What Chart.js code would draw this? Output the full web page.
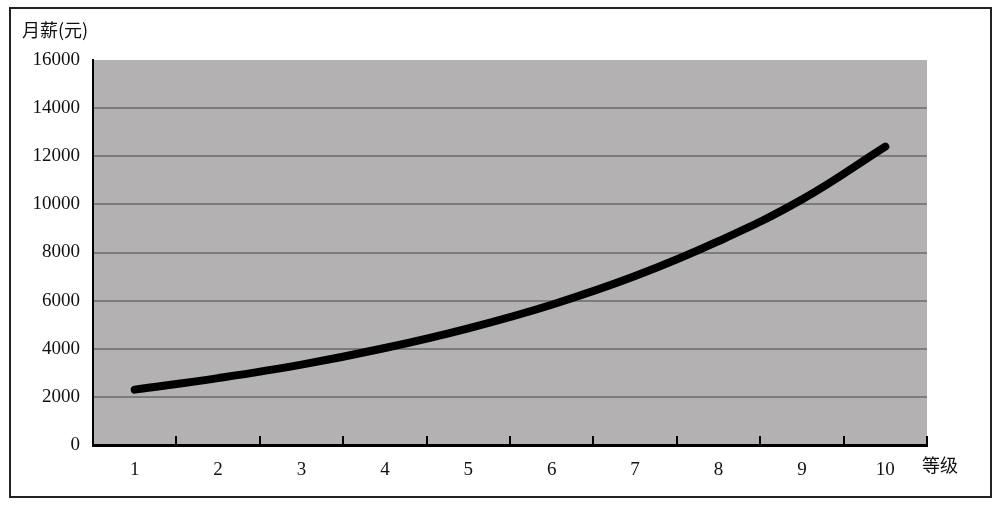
<!DOCTYPE html>
<html>
<head>
<meta charset="utf-8">
<script src="https://cdn.jsdelivr.net/npm/chart.js@4/dist/chart.umd.min.js"></script>
<style>
  html, body { margin: 0; padding: 0; background: #fff; }
  #wrap { width: 1000px; height: 505px; }
</style>
</head>
<body>
<div id="wrap"><canvas id="chart" width="1000" height="505"></canvas></div>
<script>
const levels = ["1", "2", "3", "4", "5", "6", "7", "8", "9", "10"];
const salary = [2300, 2780, 3340, 4030, 4850, 5830, 7020, 8470, 10200, 12400];
const yTicks = [0, 2000, 4000, 6000, 8000, 10000, 12000, 14000, 16000];

const yTitle = "月薪(元)";
const xTitle = "等级";

const serif = "'Liberation Serif', 'Times New Roman', serif";
const cjk = "'Noto Sans CJK SC', sans-serif";

const framePlugin = {
  id: "framePlugin",
  beforeDraw(chart) {
    const { ctx, chartArea } = chart;
    ctx.save();
    ctx.fillStyle = "#fff";
    ctx.fillRect(0, 0, chart.width, chart.height);
    // outer frame
    ctx.strokeStyle = "#222";
    ctx.lineWidth = 2;
    ctx.strokeRect(10, 8, 981, 489);
    // plot background
    ctx.fillStyle = "#b3b1b2";
    ctx.fillRect(chartArea.left, chartArea.top, chartArea.right - chartArea.left, chartArea.bottom - chartArea.top);
    ctx.restore();
  },
  afterDraw(chart) {
    const { ctx, chartArea } = chart;
    const xScale = chart.scales.x;
    ctx.save();
    // inner tick marks between categories
    ctx.strokeStyle = "#000";
    ctx.lineWidth = 2;
    const step = xScale.getPixelForValue(1) - xScale.getPixelForValue(0);
    for (let i = 1; i <= levels.length; i++) {
      const px = Math.round(xScale.getPixelForValue(i - 1) + step / 2);
      ctx.beginPath();
      ctx.moveTo(px, chartArea.bottom);
      ctx.lineTo(px, chartArea.bottom - 9);
      ctx.stroke();
    }
    // axis titles
    ctx.fillStyle = "#111";
    ctx.font = "18px " + cjk;
    ctx.textBaseline = "middle";
    ctx.textAlign = "left";
    ctx.fillText(yTitle, 22, 30);
    ctx.fillText(xTitle, 922, 465);
    ctx.restore();
  },
};

new Chart(document.getElementById("chart"), {
  type: "line",
  data: {
    labels: levels,
    datasets: [
      {
        data: salary,
        borderColor: "#000",
        borderWidth: 8,
        borderCapStyle: "round",
        tension: 0.4,
        pointRadius: 0,
        fill: false,
      },
    ],
  },
  options: {
    responsive: false,
    animation: false,
    layout: { padding: { top: 60, right: 73, left: 0, bottom: 0 } },
    plugins: {
      legend: { display: false },
      tooltip: { enabled: false },
    },
    scales: {
      x: {
        offset: true,
        grid: { display: false, offset: true },
        border: { display: true, color: "#000", width: 3 },
        ticks: {
          color: "#111",
          font: { family: serif, size: 19 },
          padding: 6,
        },
        afterFit(scale) {
          scale.height = 60;
        },
      },
      y: {
        min: 0,
        max: 16000,
        afterBuildTicks(scale) {
          scale.ticks = yTicks.map((v) => ({ value: v }));
        },
        grid: {
          drawTicks: false,
          lineWidth: 2,
          color: (c) => (c.tick && c.tick.value === 16000 ? "rgba(0,0,0,0)" : "#7d7b7c"),
        },
        border: { display: true, color: "#000", width: 2 },
        ticks: {
          color: "#111",
          font: { family: serif, size: 19 },
          padding: 13,
          callback: (v) => String(v),
        },
        afterFit(scale) {
          scale.width = 93;
        },
      },
    },
  },
  plugins: [framePlugin],
});
</script>
</body>
</html>
